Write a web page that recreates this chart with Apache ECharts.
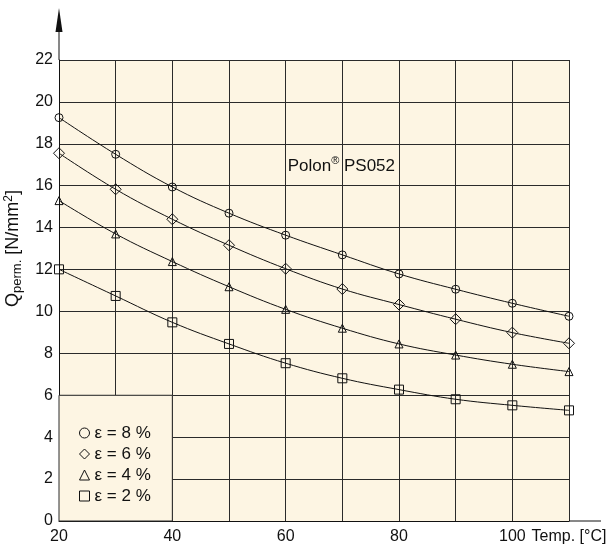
<!DOCTYPE html>
<html>
<head>
<meta charset="utf-8">
<script src="https://cdn.jsdelivr.net/npm/echarts@6/dist/echarts.min.js"></script>
<style>
  html, body { margin: 0; padding: 0; background: #fff; }
  #chart { width: 615px; height: 545px; }
</style>
</head>
<body>
<div id="chart"></div>
<script>
// temperatures (°C) and permissible load Q (N/mm²) per strain level
const temps = [20, 30, 40, 50, 60, 70, 80, 90, 100, 110];
const eps8 = [19.25, 17.5, 15.94, 14.69, 13.64, 12.70, 11.79, 11.06, 10.39, 9.77];
const eps6 = [17.55, 15.83, 14.40, 13.16, 12.04, 11.07, 10.33, 9.63, 8.99, 8.48];
const eps4 = [15.29, 13.70, 12.38, 11.18, 10.10, 9.20, 8.45, 7.92, 7.48, 7.13];
const eps2 = [12.01, 10.74, 9.48, 8.45, 7.53, 6.81, 6.27, 5.81, 5.52, 5.28];
const seriesNames = ["ε = 8 %", "ε = 6 %", "ε = 4 %", "ε = 2 %"];
const xLabels = [20, 40, 60, 80, 100];

const FONT = "Liberation Sans";
const INK = "#111";
const BG = "#fdf5e3";
const GRIDLINE = "#2a2a2a";

const chart = echarts.init(document.getElementById("chart"));

function makeSeries(name, values, symbol, size, extra) {
  return Object.assign({
    name: name,
    type: "line",
    data: temps.map((t, i) => [t, values[i]]),
    symbol: symbol,
    symbolSize: size,
    smooth: 0.4,
    z: 3,
    lineStyle: { color: INK, width: 1 },
    itemStyle: { color: "rgba(0,0,0,0)", borderColor: INK, borderWidth: 1 },
    emphasis: { disabled: true }
  }, extra || {});
}

chart.setOption({
  animation: false,
  textStyle: { fontFamily: FONT },
  grid: {
    left: 59, top: 60, right: 46, bottom: 24,
    outerBoundsMode: "none",
    containLabel: false,
    show: true, backgroundColor: BG, borderWidth: 0
  },
  legend: {
    orient: "vertical",
    left: 74,
    top: 419,
    itemWidth: 10,
    itemHeight: 10,
    itemGap: 3,
    selectedMode: false,
    data: [
      { name: seriesNames[0], icon: "circle" },
      { name: seriesNames[1], icon: "diamond" },
      { name: seriesNames[2], icon: "triangle" },
      { name: seriesNames[3], icon: "rect" }
    ],
    itemStyle: { color: "rgba(0,0,0,0)", borderColor: INK, borderWidth: 1 },
    textStyle: { fontFamily: FONT, fontSize: 17, color: INK, lineHeight: 18 }
  },
  xAxis: {
    type: "value",
    min: 20,
    max: 110,
    interval: 10,
    axisLine: { lineStyle: { color: INK, width: 1 } },
    axisTick: { show: false },
    axisLabel: {
      fontSize: 16,
      color: INK,
      margin: 8,
      formatter: v => (xLabels.indexOf(v) >= 0 ? String(v) : "")
    },
    splitLine: { show: true, lineStyle: { color: GRIDLINE, width: 1 } },
    name: "Temp. [°C]",
    nameLocation: "end",
    nameGap: -46,
    nameTextStyle: {
      fontSize: 16, color: INK, align: "left", verticalAlign: "top",
      padding: [8, 0, 0, 0]
    }
  },
  yAxis: {
    type: "value",
    min: 0,
    max: 22,
    interval: 2,
    axisLine: { show: true, lineStyle: { color: INK, width: 1 } },
    axisTick: { show: false },
    axisLabel: { fontSize: 16, color: INK, margin: 6 },
    splitLine: { show: true, lineStyle: { color: GRIDLINE, width: 1 } },
    name: "{q|Q}{sub|perm.}{q| [N/mm}{sup|2}{q|]}",
    nameLocation: "middle",
    nameRotate: 90,
    nameGap: 30,
    nameTextStyle: {
      padding: [0, 0, 0, 84],
      rich: {
        q: { fontFamily: FONT, fontSize: 18, color: INK, lineHeight: 22 },
        sub: { fontFamily: FONT, fontSize: 13, color: INK, verticalAlign: "bottom" },
        sup: { fontFamily: FONT, fontSize: 12, color: INK, verticalAlign: "top" }
      }
    }
  },
  series: [
    makeSeries(seriesNames[0], eps8, "circle", 8, {
      // blank panel behind the legend
      markArea: {
        silent: true,
        itemStyle: { color: BG, borderColor: GRIDLINE, borderWidth: 1 },
        data: [[{ coord: [20, 0] }, { coord: [40, 6] }]]
      }
    }),
    makeSeries(seriesNames[1], eps6, "diamond", 11),
    makeSeries(seriesNames[2], eps4, "triangle", 8),
    makeSeries(seriesNames[3], eps2, "rect", 9)
  ]
});

// axis extensions, arrow and product label placed from the axis scales
const topLeft = chart.convertToPixel({ gridIndex: 0 }, [20, 22]);
const bottomRight = chart.convertToPixel({ gridIndex: 0 }, [110, 0]);
const tag = chart.convertToPixel({ gridIndex: 0 }, [60, 16.95]);

chart.setOption({
  graphic: [
    {
      type: "line",
      shape: { x1: topLeft[0], y1: topLeft[1], x2: topLeft[0], y2: topLeft[1] - 30 },
      style: { stroke: INK, lineWidth: 1 }
    },
    {
      type: "polygon",
      shape: {
        points: [
          [topLeft[0], topLeft[1] - 52],
          [topLeft[0] - 3.5, topLeft[1] - 28],
          [topLeft[0] + 3.5, topLeft[1] - 28]
        ]
      },
      style: { fill: INK }
    },
    {
      type: "line",
      shape: { x1: bottomRight[0], y1: bottomRight[1], x2: bottomRight[0] + 32, y2: bottomRight[1] },
      style: { stroke: INK, lineWidth: 1 }
    },
    {
      type: "text",
      x: tag[0] + 2,
      y: tag[1],
      style: {
        text: "{a|Polon}{s|®}{a| PS052}",
        verticalAlign: "middle",
        align: "left",
        rich: {
          a: { fontFamily: FONT, fontSize: 17, fill: INK, lineHeight: 20 },
          s: { fontFamily: FONT, fontSize: 11, fill: INK, verticalAlign: "top" }
        }
      }
    }
  ]
});
</script>
</body>
</html>
